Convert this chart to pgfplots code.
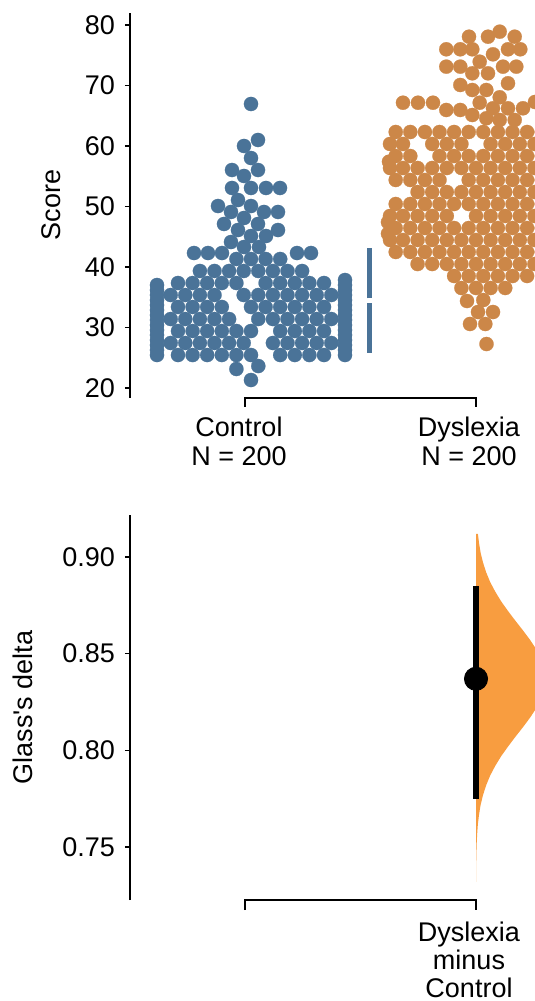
\documentclass[border=0pt]{standalone}
\usepackage{fontspec}
\setmainfont{Liberation Sans}
\usepackage{pgfplots}
\pgfplotsset{compat=1.18}
\usepackage{pgfplotstable}
\definecolor{ctrl}{RGB}{74,115,152}
\definecolor{dys}{RGB}{204,135,72}
\definecolor{vio}{RGB}{248,157,64}

% Control group swarm: x = horizontal position (px scale), y = Score
\pgfplotstableread{
x y
251 66.94
258 60.99
244 60.00
251 58.01
232 56.03
258 56.03
244 55.04
232 53.06
251 53.06
266 53.06
280 53.06
238 51.07
218 50.08
251 50.08
231 49.09
264 49.09
278 49.09
244 48.10
224 47.11
258 47.11
238 46.11
278 46.11
251 45.12
266 45.12
231 44.13
244 43.30
259 43.30
194 42.31
208 42.31
222 42.31
297 42.31
311 42.31
236.4 41.32
251 41.32
265.6 41.32
280.2 41.32
199.9 39.34
214.5 39.34
229.1 39.34
243.7 39.34
258.3 39.34
272.9 39.34
287.5 39.34
302.1 39.34
178.0 37.35
192.6 37.35
207.2 37.35
221.8 37.35
236.4 37.35
265.6 37.35
280.2 37.35
294.8 37.35
309.4 37.35
324.0 37.35
170.7 35.37
185.3 35.37
199.9 35.37
214.5 35.37
243.7 35.37
258.3 35.37
272.9 35.37
287.5 35.37
302.1 35.37
316.7 35.37
331.3 35.37
178.0 33.39
192.6 33.39
207.2 33.39
221.8 33.39
251 33.39
265.6 33.39
280.2 33.39
294.8 33.39
309.4 33.39
324.0 33.39
170.7 31.40
185.3 31.40
199.9 31.40
214.5 31.40
229.1 31.40
258.3 31.40
272.9 31.40
287.5 31.40
302.1 31.40
316.7 31.40
331.3 31.40
178.0 29.42
192.6 29.42
207.2 29.42
221.8 29.42
236.4 29.42
251 29.42
280.2 29.42
294.8 29.42
309.4 29.42
324.0 29.42
170.7 27.44
185.3 27.44
199.9 27.44
214.5 27.44
229.1 27.44
243.7 27.44
272.9 27.44
287.5 27.44
302.1 27.44
316.7 27.44
331.3 27.44
178.0 25.45
192.6 25.45
207.2 25.45
221.8 25.45
236.4 25.45
251 25.45
280.2 25.45
294.8 25.45
309.4 25.45
324.0 25.45
236.4 23.14
258.3 23.63
251 21.32
157 37.02
157 36.19
157 35.37
157 34.54
157 33.71
157 32.89
157 32.06
157 31.24
157 30.41
157 29.58
157 28.76
157 27.93
157 27.10
157 26.28
157 25.45
345 37.85
345 37.02
345 36.19
345 35.37
345 34.54
345 33.71
345 32.89
345 32.06
345 31.24
345 30.41
345 29.58
345 28.76
345 27.93
345 27.10
345 26.28
345 25.45
}\ctrldata

% Dyslexia group swarm
\pgfplotstableread{
x y
499.7 78.89
469 78.06
488 78.06
514.7 78.06
446.3 75.98
460.3 75.98
472.3 75.98
508 75.98
520.3 75.98
493 75.15
479.7 73.93
446.3 73.11
460.3 73.11
503 73.11
516.3 73.11
472.3 72.01
488 72.01
460.3 70.08
508 70.36
472.3 69.25
486.3 69.25
499.7 68.05
403 67.15
418 67.15
433 67.15
479.7 67.15
535 67.27
446.3 65.95
460.3 65.95
493 66.23
508 66.23
523 66.23
472.3 65.12
486.3 64.58
499.7 64.30
514.7 64.30
395.7 62.31
410.3 62.31
424.9 62.31
439.5 62.31
454.1 62.31
468.7 62.31
483.3 62.31
497.9 62.31
512.5 62.31
527.1 62.31
541.7 62.31
390 60.33
403 60.33
432.2 60.33
446.8 60.33
461.4 60.33
490.6 60.33
505.2 60.33
519.8 60.33
534.4 60.33
549 60.33
395.7 58.34
410.3 58.34
439.5 58.34
454.1 58.34
468.7 58.34
483.3 58.34
497.9 58.34
512.5 58.34
527.1 58.34
541.7 58.34
389 57.40
390 56.36
403 56.36
417.6 56.36
432.2 56.36
446.8 56.36
461.4 56.36
476 56.36
490.6 56.36
505.2 56.36
519.8 56.36
534.4 56.36
549 56.36
395.7 54.38
410.3 54.38
424.9 54.38
439.5 54.38
468.7 54.38
483.3 54.38
497.9 54.38
512.5 54.38
527.1 54.38
541.7 54.38
417.6 52.39
432.2 52.39
446.8 52.39
461.4 52.39
476 52.39
490.6 52.39
505.2 52.39
519.8 52.39
534.4 52.39
549 52.39
395.7 50.41
410.3 50.41
424.9 50.41
439.5 50.41
454.1 50.41
468.7 50.41
483.3 50.41
497.9 50.41
512.5 50.41
527.1 50.41
541.7 50.41
390 48.43
403 48.43
417.6 48.43
432.2 48.43
446.8 48.43
476 48.43
490.6 48.43
505.2 48.43
519.8 48.43
534.4 48.43
549 48.43
388 47.40
395.7 46.44
410.3 46.44
424.9 46.44
439.5 46.44
454.1 46.44
468.7 46.44
483.3 46.44
497.9 46.44
512.5 46.44
527.1 46.44
541.7 46.44
388 45.50
390 44.46
403 44.46
417.6 44.46
432.2 44.46
446.8 44.46
461.4 44.46
476 44.46
490.6 44.46
505.2 44.46
519.8 44.46
534.4 44.46
549 44.46
395.7 42.48
410.3 42.48
424.9 42.48
439.5 42.48
454.1 42.48
468.7 42.48
483.3 42.48
497.9 42.48
512.5 42.48
527.1 42.48
541.7 42.48
417.6 40.49
432.2 40.49
446.8 40.49
461.4 40.49
476 40.49
490.6 40.49
505.2 40.49
519.8 40.49
534.4 40.49
454.1 38.51
468.7 38.51
483.3 38.51
497.9 38.51
512.5 38.51
527.1 38.51
461.4 36.53
476 36.53
490.6 36.53
505.2 36.53
467 34.38
483.3 34.54
478 32.56
493 32.56
470 30.58
485.3 30.58
486.5 27.27
}\dysdata

\pgfplotsset{
  basestyle/.style={
    scale only axis, width=235pt, height=192.5pt,
    xmin=130, xmax=600,
    axis y line*=left, axis x line=none,
    y axis line style={-, line width=0.8pt, black},
    clip=false, xtick=\empty,
    tick align=outside, ytick pos=left,
    major tick length=2.5pt,
    every tick/.style={black, line width=0.8pt},
    /pgf/number format/assume math mode=true,
    yticklabel style={font=\fontsize{13.5}{15}\selectfont, xshift=-1.5pt},
  }
}

\begin{document}
\begin{tikzpicture}
\begin{axis}[basestyle, at={(65pt,301.5pt)}, anchor=south west,
  ymin=18.35, ymax=81.98, ytick={20,30,40,50,60,70,80}]
  \addplot[only marks, mark=*, mark size=3.55pt, color=ctrl, line width=0.1pt]
    table[x=x,y=y]{\ctrldata};
  \addplot[only marks, mark=*, mark size=3.55pt, color=dys, line width=0.1pt]
    table[x=x,y=y]{\dysdata};
  \addplot[ctrl, line width=2.5pt] coordinates {(369,25.83) (369,34.00)};
  \addplot[ctrl, line width=2.5pt] coordinates {(369,34.82) (369,43.09)};
  \draw[line width=0.8pt] ([yshift=-4.5pt]axis cs:245,18.35) -- (axis cs:245,18.35)
     -- (axis cs:476,18.35) -- ([yshift=-4.5pt]axis cs:476,18.35);
  \node[anchor=north, align=center, inner sep=0pt, font=\fontsize{13.5}{14.5}\selectfont]
     at ([yshift=-9.5pt]axis cs:239,18.35) {Control\\N = 200};
  \node[anchor=north, align=center, inner sep=0pt, font=\fontsize{13.5}{14.5}\selectfont]
     at ([yshift=-9.5pt]axis cs:469,18.35) {Dyslexia\\N = 200};
\end{axis}

\begin{axis}[basestyle, at={(65pt,50.5pt)}, anchor=south west,
  ymin=0.7226, ymax=0.9217, ytick={0.75,0.80,0.85,0.90},
  yticklabel style={/pgf/number format/.cd, fixed, fixed zerofill, precision=2}]
  \addplot[fill=vio, draw=none] coordinates {
    (476,0.732) (476.1,0.732) (476.1,0.737) (476.2,0.742) (476.4,0.747)
    (476.7,0.752) (477.2,0.757) (477.9,0.762) (479.1,0.767) (480.7,0.772)
    (483.1,0.777) (486.2,0.782) (490.2,0.787) (495.3,0.792) (501.2,0.797)
    (508.1,0.802) (515.4,0.807) (523.0,0.812) (530.2,0.817) (536.6,0.822)
    (541.7,0.827) (544.9,0.832) (546.0,0.837) (544.9,0.842) (541.7,0.847)
    (536.6,0.852) (530.2,0.857) (523.0,0.862) (515.4,0.867) (508.1,0.872)
    (501.2,0.877) (495.3,0.882) (490.2,0.887) (486.2,0.892) (483.1,0.897)
    (480.7,0.902) (479.1,0.907) (477.9,0.912) (476,0.912)} -- cycle;
  \addplot[black, line width=2.8pt] coordinates {(476,0.775) (476,0.885)};
  \addplot[only marks, mark=*, mark size=5.8pt, black] coordinates {(476,0.837)};
  \draw[line width=0.8pt] ([yshift=-5pt]axis cs:245,0.7226) -- (axis cs:245,0.7226)
     -- (axis cs:476,0.7226) -- ([yshift=-5pt]axis cs:476,0.7226);
  \node[anchor=north, align=center, inner sep=0pt, font=\fontsize{13.5}{14}\selectfont]
     at ([yshift=-11pt]axis cs:469,0.7226) {Dyslexia\\minus\\Control};
\end{axis}

\node[rotate=90, font=\fontsize{13.5}{14.5}\selectfont] at (25.5pt,398pt) {Score};
\node[rotate=90, font=\fontsize{13.5}{14.5}\selectfont] at (11.25pt,146.75pt) {Glass\textquotesingle s delta};

\pgfresetboundingbox
\useasboundingbox (0,0) rectangle (267.5pt,500.5pt);
\end{tikzpicture}
\end{document}
